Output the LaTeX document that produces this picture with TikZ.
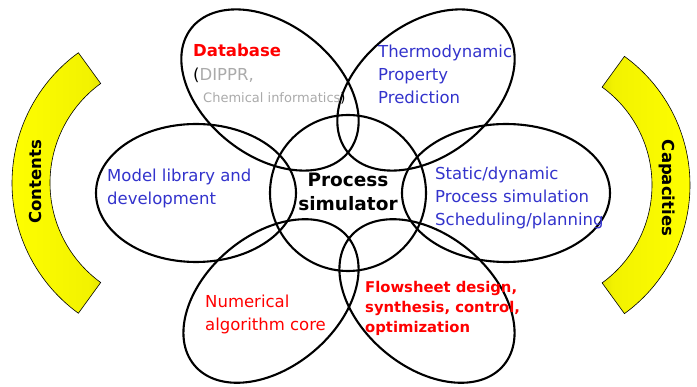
\documentclass[tikz,border=0pt]{standalone}
\usepackage{fontspec}
\setmainfont{DejaVu Sans}
\usetikzlibrary{shapes.geometric}
\definecolor{txtblue}{RGB}{51,51,204}
\definecolor{txtgrey}{RGB}{170,170,170}

\begin{document}
\begin{tikzpicture}[x=1pt,y=-1pt,
  petal/.style={ellipse,draw,line width=2.1pt,inner sep=0pt,minimum width=200pt,minimum height=132pt},
  band/.style={draw=black,line width=0.6pt},
  txt/.style={anchor=base west,inner sep=0pt,align=left,font=\fontsize{16.5}{23}\selectfont},
  side/.style={inner sep=0pt,font=\fontsize{16.5}{20}\selectfont\bfseries}]
  \useasboundingbox (0,0) rectangle (697,387);

  \node[petal,rotate=-38] (data) at (270,90) {};
  \node[petal,rotate=38] (thermo) at (426,90) {};
  \node[petal,minimum width=200pt,minimum height=138pt] (lib) at (196,193) {};
  \node[petal,minimum width=208pt,minimum height=138pt] (dyn) at (506,193) {};
  \node[petal,rotate=40] (num) at (271,301) {};
  \node[petal,rotate=-40] (flow) at (427,301) {};
  \node[circle,draw,line width=2.1pt,inner sep=0pt,minimum size=156pt] (core) at (348,193) {};

  \coordinate (lc) at (173,183);
  \coordinate (rc) at (531,185);
  \draw[band,left color=yellow,right color=yellow!55!black,middle color=yellow!95!black]
    (lc) ++(126:161) arc[start angle=126,end angle=234,radius=161]
    -- ++(54:38) arc[start angle=234,end angle=126,radius=123] -- cycle;
  \draw[band,left color=yellow!55!black,right color=yellow,middle color=yellow!95!black]
    (rc) ++(54:159) arc[start angle=54,end angle=-54,radius=159]
    -- ++(126:38) arc[start angle=-54,end angle=54,radius=121] -- cycle;
  \node[side,rotate=90] (contents) at (35,182) {Contents};
  \node[side,rotate=-90] (capacities) at (667,188) {Capacities};

  \node[txt,font=\fontsize{16.5}{23}\selectfont\bfseries,text=red] (datat) at (193,57) {Database};
  \node[txt] (dippr) at (193,81) {(\textcolor{txtgrey}{DIPPR,}};
  \node[txt,font=\fontsize{13}{16}\selectfont] (chem) at (203,103) {\textcolor{txtgrey}{Chemical informatics})};
  \node[txt,text=txtblue] (thermot) at (378,104) {Thermodynamic\\Property\\Prediction};
  \node[txt,text=txtblue] (libt) at (107,205) {Model library and\\development};
  \node[txt,text=txtblue] (dynt) at (435,226) {Static/dynamic\\Process simulation\\Scheduling/planning};
  \node[txt,text=red] (numt) at (205,331) {Numerical\\algorithm core};
  \node[txt,font=\fontsize{14.8}{20}\selectfont\bfseries,text=red] (flowt) at (365,333) {Flowsheet design,\\synthesis, control,\\optimization};
  \node[anchor=base,inner sep=0pt,align=center,font=\fontsize{18.5}{24}\selectfont\bfseries] (coret) at (348,211) {Process\\simulator};
\end{tikzpicture}
\end{document}
